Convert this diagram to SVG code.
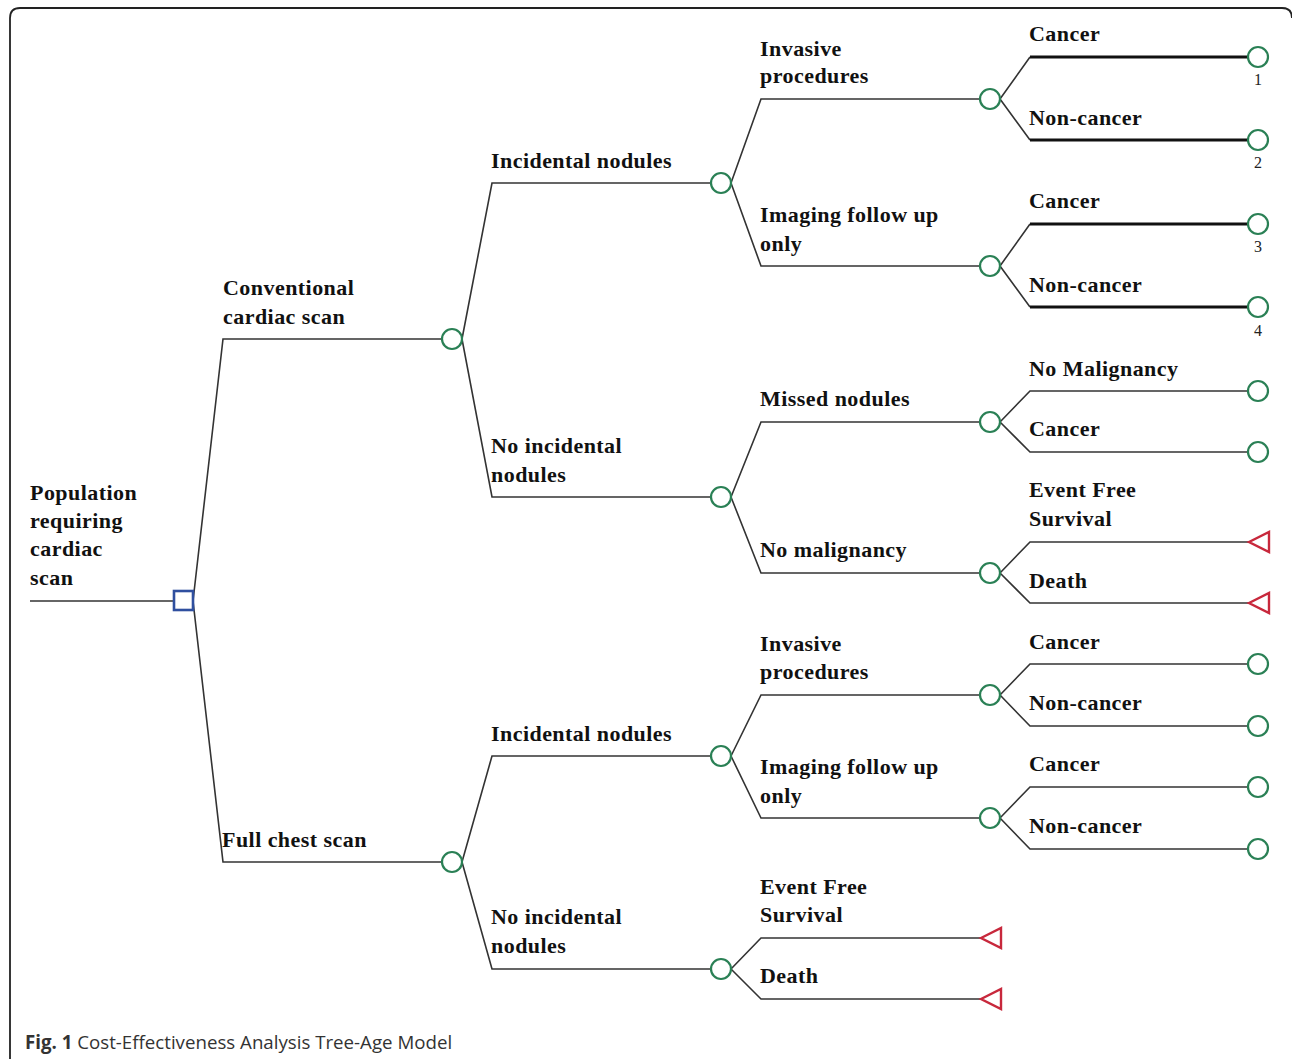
<svg xmlns="http://www.w3.org/2000/svg" width="1292" height="1059" viewBox="0 0 1292 1059">
<defs>
<style>
.ln{fill:none;stroke:#333;stroke-width:1.6}
.thk{fill:none;stroke:#111;stroke-width:3.2}
.ch{fill:#fff;stroke:#2a8055;stroke-width:2.2}
.tm{fill:#fff;stroke:#c8283c;stroke-width:2.4;stroke-linejoin:miter}
.dec{fill:#fff;stroke:#2f4f9f;stroke-width:2.6}
.lb{font-family:"Liberation Serif","Times New Roman",serif;font-weight:bold;font-size:22px;letter-spacing:0.45px;fill:#111}
.num{font-family:"Liberation Serif","Times New Roman",serif;font-size:16px;fill:#222;text-anchor:middle}
.cap{font-family:"Open Sans","Noto Sans",sans-serif;font-size:18.7px;fill:#333}
</style>
<circle id="c" r="10" class="ch"/>
<path id="t" d="M0,0 L20,-10 L20,10 Z" class="tm"/>
</defs>
<rect width="1292" height="1059" fill="#fff"/>
<path d="M10,1059 V18 Q10,8 20,8 H1282 Q1292,8 1292,18" fill="none" stroke="#222" stroke-width="1.8"/>

<g id="connectors">
<path class="ln" d="M30,601 H173"/>
<path class="ln" d="M193,601 L223,339 H442 M193,601 L223,862 H442"/>
<path class="ln" d="M462,339 L492,183 H711 M462,339 L492,497 H711"/>
<path class="ln" d="M731,183 L761,99 H980 M731,183 L761,266 H980"/>
<path class="ln" d="M1000,99 L1030,57 M1000,99 L1030,140 M1000,266 L1030,224 M1000,266 L1030,307"/>
<path class="thk" d="M1030,57 H1248 M1030,140 H1248 M1030,224 H1248 M1030,307 H1248"/>
<path class="ln" d="M731,497 L761,422 H980 M731,497 L761,573 H980"/>
<path class="ln" d="M1000,422 L1030,391 H1248 M1000,422 L1030,452 H1248"/>
<path class="ln" d="M1000,573 L1030,542 H1249 M1000,573 L1030,603 H1249"/>
<path class="ln" d="M462,862 L492,756 H711 M462,862 L492,969 H711"/>
<path class="ln" d="M731,756 L761,695 H980 M731,756 L761,818 H980"/>
<path class="ln" d="M1000,695 L1030,664 H1248 M1000,695 L1030,726 H1248"/>
<path class="ln" d="M1000,818 L1030,787 H1248 M1000,818 L1030,849 H1248"/>
<path class="ln" d="M731,969 L761,938 H981 M731,969 L761,999 H981"/>
</g>

<g id="root"><rect x="174" y="591" width="19" height="19" class="dec"/>
<text class="lb" x="30" y="500">Population</text><text class="lb" x="30" y="528">requiring</text><text class="lb" x="30" y="556">cardiac</text><text class="lb" x="30" y="585">scan</text></g>

<g id="conventional"><use href="#c" x="452" y="339"/><text class="lb" x="223" y="295">Conventional</text><text class="lb" x="223" y="324">cardiac scan</text></g>
<g id="fullchest"><use href="#c" x="452" y="862"/><text class="lb" x="222" y="847">Full chest scan</text></g>

<g id="inc1"><use href="#c" x="721" y="183"/><text class="lb" x="491" y="168">Incidental nodules</text></g>
<g id="noinc1"><use href="#c" x="721" y="497"/><text class="lb" x="491" y="453">No incidental</text><text class="lb" x="491" y="482">nodules</text></g>

<g id="inv1"><use href="#c" x="990" y="99"/><text class="lb" x="760" y="56">Invasive</text><text class="lb" x="760" y="83">procedures</text></g>
<g id="img1"><use href="#c" x="990" y="266"/><text class="lb" x="760" y="222">Imaging follow up</text><text class="lb" x="760" y="251">only</text></g>

<g id="t1"><use href="#c" x="1258" y="57"/><text class="lb" x="1029" y="41">Cancer</text><text class="num" x="1258" y="85">1</text></g>
<g id="t2"><use href="#c" x="1258" y="140"/><text class="lb" x="1029" y="125">Non-cancer</text><text class="num" x="1258" y="168">2</text></g>
<g id="t3"><use href="#c" x="1258" y="224"/><text class="lb" x="1029" y="208">Cancer</text><text class="num" x="1258" y="252">3</text></g>
<g id="t4"><use href="#c" x="1258" y="307"/><text class="lb" x="1029" y="292">Non-cancer</text><text class="num" x="1258" y="336">4</text></g>

<g id="missed"><use href="#c" x="990" y="422"/><text class="lb" x="760" y="406">Missed nodules</text></g>
<g id="nomal"><use href="#c" x="990" y="573"/><text class="lb" x="760" y="557">No malignancy</text></g>

<g id="t5"><use href="#c" x="1258" y="391"/><text class="lb" x="1029" y="376">No Malignancy</text></g>
<g id="t6"><use href="#c" x="1258" y="452"/><text class="lb" x="1029" y="436">Cancer</text></g>
<g id="t7"><use href="#t" x="1249" y="542"/><text class="lb" x="1029" y="497">Event Free</text><text class="lb" x="1029" y="526">Survival</text></g>
<g id="t8"><use href="#t" x="1249" y="603"/><text class="lb" x="1029" y="588">Death</text></g>

<g id="inc2"><use href="#c" x="721" y="756"/><text class="lb" x="491" y="741">Incidental nodules</text></g>
<g id="noinc2"><use href="#c" x="721" y="969"/><text class="lb" x="491" y="924">No incidental</text><text class="lb" x="491" y="953">nodules</text></g>

<g id="inv2"><use href="#c" x="990" y="695"/><text class="lb" x="760" y="651">Invasive</text><text class="lb" x="760" y="679">procedures</text></g>
<g id="img2"><use href="#c" x="990" y="818"/><text class="lb" x="760" y="774">Imaging follow up</text><text class="lb" x="760" y="803">only</text></g>

<g id="t9"><use href="#c" x="1258" y="664"/><text class="lb" x="1029" y="649">Cancer</text></g>
<g id="t10"><use href="#c" x="1258" y="726"/><text class="lb" x="1029" y="710">Non-cancer</text></g>
<g id="t11"><use href="#c" x="1258" y="787"/><text class="lb" x="1029" y="771">Cancer</text></g>
<g id="t12"><use href="#c" x="1258" y="849"/><text class="lb" x="1029" y="833">Non-cancer</text></g>

<g id="t13"><use href="#t" x="981" y="938"/><text class="lb" x="760" y="894">Event Free</text><text class="lb" x="760" y="922">Survival</text></g>
<g id="t14"><use href="#t" x="981" y="999"/><text class="lb" x="760" y="983">Death</text></g>

<g id="caption"><text class="cap" x="25" y="1049"><tspan font-weight="bold">Fig. 1</tspan> Cost-Effectiveness Analysis Tree-Age Model</text></g>
</svg>
